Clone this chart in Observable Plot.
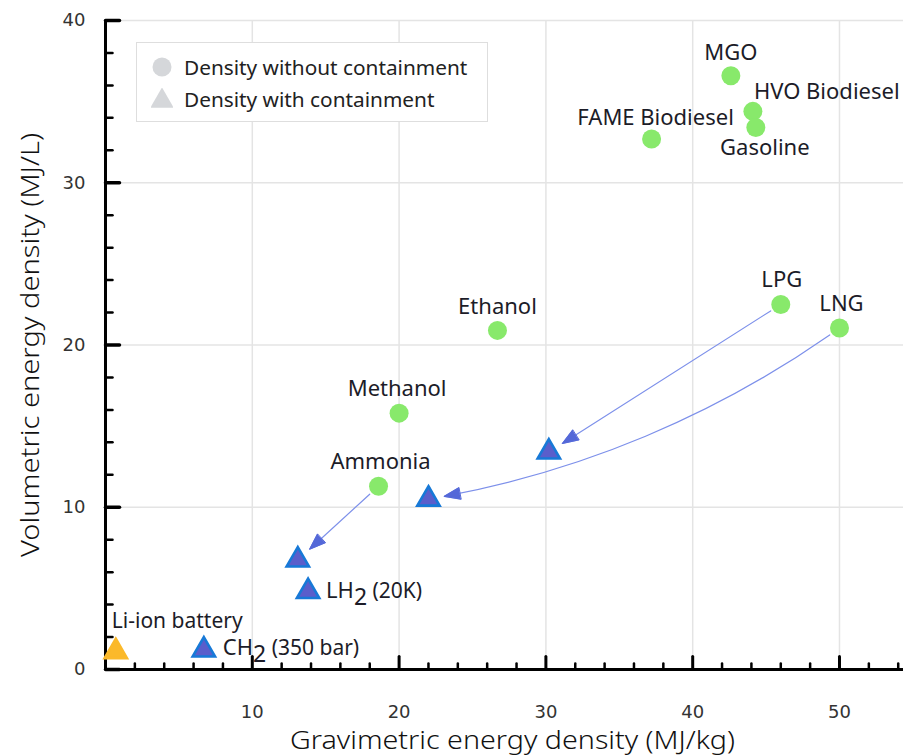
<!DOCTYPE html>
<html><head><meta charset="utf-8">
<script src="https://cdn.jsdelivr.net/npm/d3@7"></script>
<script src="https://cdn.jsdelivr.net/npm/@observablehq/plot@0.6"></script>
<style>
body{margin:0;background:#fff;}
#wrap{position:relative;width:903px;height:756px;font-family:"Noto Sans",sans-serif;}
#legend{position:absolute;left:136px;top:42px;width:352px;height:80px;border:1px solid #dedede;background:#fff;box-sizing:border-box;}
#legend .row{position:absolute;left:14px;display:flex;align-items:center;font-size:20.8px;color:#222;}
#legend svg{margin-right:11px;}
</style></head><body><div id="wrap"><div id="chart"></div><div id="legend"></div></div>
<script>
// Fuels without containment (circles)
const fuelNames = ["MGO","HVO Biodiesel","Gasoline","FAME Biodiesel","LPG","LNG","Ethanol","Methanol","Ammonia"];
const fuelGrav  = [42.6, 44.1, 44.3, 37.2, 46.0, 50.0, 26.7, 20.0, 18.6];
const fuelVol   = [36.6, 34.4, 33.4, 32.7, 22.5, 21.05, 20.9, 15.8, 11.3];

// Densities with containment (triangles)
const contNames = ["LPG (contained)","LNG (contained)","Ammonia (contained)","LH2 (20K)","CH2 (350 bar)","Li-ion battery"];
const contGrav  = [30.2, 22.0, 13.1, 13.8, 6.7, 0.7];
const contVol   = [13.4, 10.5, 6.75, 4.8, 1.2, 1.1];
const contLabelled = [false, false, false, true, true, true];

// Arrows: fuel -> contained
const arrowFrom = ["Ammonia","LPG","LNG"];
const arrowTo   = ["Ammonia (contained)","LPG (contained)","LNG (contained)"];

const xMajor = [10,20,30,40,50];
const yMajor = [0,10,20,30,40];
const xMinor = d3.range(2, 55, 2).filter(v => v % 10 !== 0);
const yMinor = d3.range(2, 40, 2).filter(v => v % 10 !== 0);

const xTitle = "Gravimetric energy density (MJ/kg)";
const yTitle = "Volumetric energy density (MJ/L)";
const legendItems = ["Density without containment","Density with containment"];

const fuels = fuelNames.map((name,i)=>({name, x:fuelGrav[i], y:fuelVol[i]}));
const cont = contNames.map((name,i)=>({name, x:contGrav[i], y:contVol[i], labelled:contLabelled[i]}));
const fuelBy = new Map(fuels.map(d=>[d.name,d]));
const contBy = new Map(cont.map(d=>[d.name,d]));
const arrows = arrowFrom.map((f,i)=>({from:fuelBy.get(f), to:contBy.get(arrowTo[i])}));
const straightArrows = arrows.filter(a=>a.from.name!=="LNG");
const bentArrows = arrows.filter(a=>a.from.name==="LNG");

// label placement (pixel offsets)
const place = {
  "MGO":{dx:0,dy:-23,anchor:"middle",size:22},
  "HVO Biodiesel":{dx:1,dy:-19,anchor:"start",size:22},
  "Gasoline":{dx:9,dy:20,anchor:"middle",size:22},
  "FAME Biodiesel":{dx:4,dy:-21,anchor:"middle",size:22},
  "LPG":{dx:1,dy:-24,anchor:"middle",size:22},
  "LNG":{dx:2,dy:-24,anchor:"middle",size:22},
  "Ethanol":{dx:0,dy:-23,anchor:"middle",size:22},
  "Methanol":{dx:-2,dy:-24,anchor:"middle",size:22},
  "Ammonia":{dx:2,dy:-24,anchor:"middle",size:22},
  "LH2 (20K)":{dx:18,dy:-1,anchor:"start",size:22},
  "CH2 (350 bar)":{dx:19,dy:-2,anchor:"start",size:22},
  "Li-ion battery":{dx:-4,dy:-30,anchor:"start",size:21}
};
const labels = [...fuels, ...cont.filter(d=>d.labelled)];

const tickShape = {draw(ctx, l){ ctx.moveTo(0,0); ctx.lineTo(0,-l); }};
const headFill = "#5468d8";

function fillHeads(index, scales, values, dimensions, context, next){
  const g = next(index, scales, values, dimensions, context);
  d3.select(g).selectAll("path").each(function(){
    const d = this.getAttribute("d");
    const i = d.lastIndexOf("M");
    const p = document.createElementNS("http://www.w3.org/2000/svg","path");
    p.setAttribute("d", d.slice(i) + "Z");
    p.setAttribute("fill", headFill);
    p.setAttribute("stroke", headFill);
    p.setAttribute("stroke-width", "1");
    this.parentNode.appendChild(p);
  });
  return g;
}
const arrowOpts = {
  x1:d=>d.from.x, y1:d=>d.from.y, x2:d=>d.to.x, y2:d=>d.to.y,
  insetStart:12, insetEnd:16, headLength:21, headAngle:40,
  stroke:"#7d90ea", strokeWidth:1.2, render: fillHeads
};

const txtColor = "#1c1c28";
const labelFont = "Noto Sans";

const chart = Plot.plot({
  width: 903, height: 756,
  marginLeft: 105, marginRight: 0, marginTop: 20, marginBottom: 87,
  x: {domain:[0,54.36], axis:null},
  y: {domain:[0,40], axis:null},
  style: {fontFamily: labelFont, background:"#fff"},
  marks: [
    Plot.gridX(xMajor, {stroke:"#e4e4e4", strokeOpacity:1, strokeWidth:1.5}),
    Plot.gridY(yMajor.filter(v=>v>0), {stroke:"#e4e4e4", strokeOpacity:1, strokeWidth:1.5}),
    // minor & major ticks, drawn inward
    Plot.vector(xMinor, {x:d=>d, y:0, length:6, rotate:0, anchor:"start", shape:tickShape, stroke:"#000", strokeWidth:2.5}),
    Plot.vector(xMajor, {x:d=>d, y:0, length:13, rotate:0, anchor:"start", shape:tickShape, stroke:"#000", strokeWidth:3}),
    Plot.vector(yMinor, {x:0, y:d=>d, length:7, rotate:90, anchor:"start", shape:tickShape, stroke:"#000", strokeWidth:2.5}),
    Plot.vector(yMajor, {x:0, y:d=>d, length:14, rotate:90, anchor:"start", shape:tickShape, stroke:"#000", strokeWidth:3.5}),
    Plot.ruleY([0], {stroke:"#000", strokeWidth:3}),
    Plot.ruleX([0], {stroke:"#000", strokeWidth:3}),
    // tick labels
    Plot.text(xMajor, {x:d=>d, frameAnchor:"bottom", dy:48, text:d=>String(d), fontSize:18, fill:"#333", fontFamily:"DejaVu Sans"}),
    Plot.text(yMajor, {y:d=>d, frameAnchor:"left", dx:-20, textAnchor:"end", text:d=>String(d), fontSize:18, fill:"#333", fontFamily:"DejaVu Sans"}),
    // arrows
    Plot.arrow(straightArrows, {...arrowOpts, bend:0}),
    Plot.arrow(bentArrows, {...arrowOpts, bend:13}),
    Plot.dot(fuels, {x:"x", y:"y", r:9.5, fill:"#88e96b"}),
    Plot.dot(cont, {x:"x", y:"y", symbol:"triangle", r:8.3,
      fill:d=>d.name==="Li-ion battery"?"#fbb92a":"#5a5ecb",
      stroke:d=>d.name==="Li-ion battery"?"#fbb92a":"#1779d7", strokeWidth:2.6, strokeLinejoin:"miter"}),
    ...labels.map(d=>Plot.text([d], {x:"x", y:"y", text:"name",
      dx:place[d.name].dx, dy:place[d.name].dy, textAnchor:place[d.name].anchor,
      fontSize:place[d.name].size, fill:txtColor})),
    // axis titles
    Plot.text([xTitle], {frameAnchor:"bottom", dx:8, dy:79, text:d=>d, fontSize:25, fill:"#111", fontWeight:300}),
    Plot.text([yTitle], {frameAnchor:"left", dx:-75, rotate:-90, text:d=>d, fontSize:26, fill:"#111", fontWeight:300})
  ]
});
document.getElementById("chart").appendChild(chart);

const svg = d3.select(chart);
svg.selectAll("text").each(function(){
  const t = this.textContent;
  if (t === xTitle) {
    this.setAttribute("text-anchor","start"); this.setAttribute("x", -222.5);
    this.setAttribute("textLength", 445); this.setAttribute("lengthAdjust","spacingAndGlyphs");
  }
  if (t === yTitle) {
    this.setAttribute("text-anchor","start"); this.setAttribute("x", -212);
    this.setAttribute("textLength", 424); this.setAttribute("lengthAdjust","spacingAndGlyphs");
  }
  if (t==="LH2 (20K)" || t==="CH2 (350 bar)") {
    const k = t.indexOf("2");
    const sel = d3.select(this);
    sel.text(null);
    sel.append("tspan").text(t.slice(0, k));
    sel.append("tspan").attr("dy", 7).attr("font-size", 23).text("2");
    sel.append("tspan").attr("dy", -7).attr("font-size", 21).text(t.slice(k+1));
  }
});

// legend
const lg = d3.select("#legend");
legendItems.forEach((label,i)=>{
  const row = lg.append("div").attr("class","row").style("top", (i===0? 10 : 42) + "px");
  const s = row.append("svg").attr("width",22).attr("height",22);
  if (i===0) s.append("circle").attr("cx",11).attr("cy",11).attr("r",9.5).attr("fill","#d5d7da");
  else s.append("path").attr("d", d3.symbol(d3.symbolTriangle, 240)()).attr("transform","translate(11,13)").attr("fill","#d5d7da");
  row.append("span").text(label);
});
</script></body></html>
